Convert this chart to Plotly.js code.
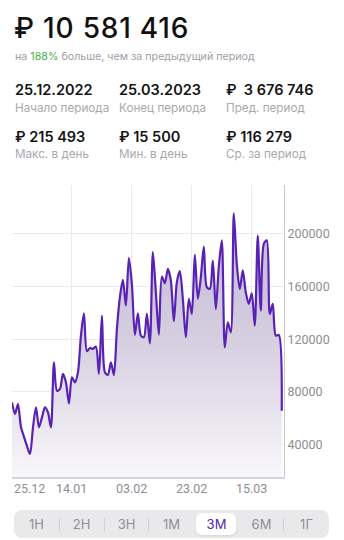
<!DOCTYPE html>
<html>
<head>
<meta charset="utf-8">
<script src="https://cdn.plot.ly/plotly-3.0.1.min.js"></script>
<style>
  html, body { margin: 0; padding: 0; background: #ffffff; }
  body { width: 344px; height: 540px; position: relative; overflow: hidden; font-family: Inter, "Noto Sans", sans-serif; }
  #chart { position: absolute; left: 0; top: 0; width: 344px; height: 540px; }
  .t { position: absolute; white-space: pre; line-height: 1; }
  .big { left: 14px; top: 14px; font-size: 28px; font-weight: 500; color: #111; letter-spacing: 0.8px; }
  .sub { left: 15px; top: 52px; font-size: 10.7px; color: #a0a0a5; }
  .sub b { color: #4caf50; font-weight: 400; }
  .val { font-size: 14.5px; font-weight: 600; color: #151515; }
  .lab { font-size: 11.7px; color: #a8a8ad; }
  #seg { position: absolute; left: 14px; top: 510px; width: 315px; height: 28px; background: #e9e9ec; border-radius: 8px; }
  .s { position: absolute; top: 0; width: 45px; height: 28px; line-height: 28px; text-align: center; font-size: 13px; color: #8e8e93; }
  .sel { position: absolute; left: 182px; top: 3px; width: 40px; height: 22px; background: #fff; border-radius: 6px; box-shadow: 0 1px 2px rgba(0,0,0,0.08); }
  .sep { position: absolute; top: 8px; width: 1px; height: 13px; background: #cfcfd4; }
</style>
</head>
<body>
<div id="chart"></div>

<div class="t big">₽ 10 581 416</div>
<div class="t sub">на <b>188%</b> больше, чем за предыдущий период</div>

<div class="t val" style="left:15px; top:82.5px;">25.12.2022</div>
<div class="t lab" style="left:15px; top:103px;">Начало периода</div>
<div class="t val" style="left:119px; top:82.5px;">25.03.2023</div>
<div class="t lab" style="left:119px; top:103px;">Конец периода</div>
<div class="t val" style="left:226px; top:82.5px;">₽&nbsp; 3 676 746</div>
<div class="t lab" style="left:226px; top:103px;">Пред. период</div>

<div class="t val" style="left:15px; top:129.5px;">₽ 215 493</div>
<div class="t lab" style="left:15px; top:149px;">Макс. в день</div>
<div class="t val" style="left:119px; top:129.5px;">₽ 15 500</div>
<div class="t lab" style="left:119px; top:149px;">Мин. в день</div>
<div class="t val" style="left:226px; top:129.5px;">₽ 116 279</div>
<div class="t lab" style="left:226px; top:149px;">Ср. за период</div>

<div id="seg">
  <div class="sel"></div>
  <div class="sep" style="left:45px;"></div>
  <div class="sep" style="left:90px;"></div>
  <div class="sep" style="left:134px;"></div>
  <div class="sep" style="left:269px;"></div>
  <div class="s" style="left:0px;">1Н</div>
  <div class="s" style="left:45px;">2Н</div>
  <div class="s" style="left:90px;">3Н</div>
  <div class="s" style="left:135px;">1М</div>
  <div class="s" style="left:180px; color:#5a22b4;">3М</div>
  <div class="s" style="left:225px;">6М</div>
  <div class="s" style="left:270px;">1Г</div>
</div>

<script>
// Daily revenue, 25.12.2022 .. 25.03.2023 (91 days)
const startDate = '2022-12-25';
const dailyValues = [
  72100, 63300, 70900, 53200, 46000, 39000, 33000, 53000, 68300, 53200,
  60700, 68300, 64500, 53200, 102500, 81000, 82300, 93700, 87300, 71400,
  91100, 87300, 94900, 122800, 139700, 110900, 113400, 112700, 114400, 93700,
  138000, 94900, 92900, 102500, 92900, 127900, 151900, 165000, 145600, 181800,
  162000, 123300, 139700, 122800, 121500, 139200, 116900, 186100, 155700, 123500,
  167600, 162500, 173400, 164600, 133700, 163300, 171700, 150700, 121500, 150700,
  139200, 184300, 150700, 167100, 190400, 159500, 158200, 179700, 143000, 175200,
  195000, 113900, 132900, 125300, 215493, 177200, 158200, 172200, 155700, 146900,
  154900, 130400, 198700, 141800, 192400, 195000, 139200, 146900, 122800, 123300,
  65800
];
const xTickVals = ['2022-12-25', '2023-01-14', '2023-02-03', '2023-02-23', '2023-03-15'];
const xTickText = ['25.12', '14.01', '03.02', '23.02', '15.03'];
const yTickVals = [40000, 80000, 120000, 160000, 200000];
const yTickText = ['40000', '80000', '120000', '160000', '200000'];
const minDay = 15500;
const maxDay = 215493;

const DAY_MS = 86400000;

const trace = {
  type: 'scatter',
  mode: 'lines',
  x0: startDate,
  dx: DAY_MS,
  y: dailyValues,
  line: { color: '#5a22b4', width: 2.2, shape: 'spline', smoothing: 0.8 },
  fill: 'tozeroy',
  fillgradient: {
    type: 'vertical',
    start: minDay,
    stop: maxDay,
    colorscale: [[0, '#f8f7fa'], [0.5, '#d6d0e1'], [1, '#c2b8d4']]
  },
  hoverinfo: 'skip'
};

const annotations = xTickVals.map((d, i) => ({
  x: d, xref: 'x', y: 0, yref: 'paper',
  text: xTickText[i], showarrow: false,
  xanchor: i === 0 ? 'left' : 'center', yanchor: 'top', yshift: -2,
  font: { family: 'Roboto, Inter, sans-serif', size: 12.5, color: '#8e8e93' }
}));

const layout = {
  width: 344, height: 540,
  margin: { l: 12, r: 60, t: 185, b: 63 },
  paper_bgcolor: 'rgba(0,0,0,0)',
  plot_bgcolor: 'rgba(0,0,0,0)',
  showlegend: false,
  xaxis: {
    type: 'date',
    range: ['2022-12-25', '2023-03-25 18:00'],
    tickvals: xTickVals,
    showticklabels: false,
    showgrid: true, gridcolor: '#ebebef', gridwidth: 1,
    showline: true, linecolor: '#d3d3d8', linewidth: 2,
    zeroline: false, ticks: '', fixedrange: true
  },
  yaxis: {
    side: 'right',
    range: [minDay, maxDay * 1.1],
    tickvals: yTickVals, ticktext: yTickText,
    showgrid: true, gridcolor: '#ebebef', gridwidth: 1,
    showline: true, linecolor: '#c8c8cd', linewidth: 1,
    zeroline: false, ticks: '',
    tickfont: { family: 'Roboto, Inter, sans-serif', size: 12.5, color: '#8e8e93' },
    fixedrange: true
  },
  annotations: annotations
};

Plotly.newPlot('chart', [trace], layout, { staticPlot: true, displayModeBar: false });
</script>
</body>
</html>
